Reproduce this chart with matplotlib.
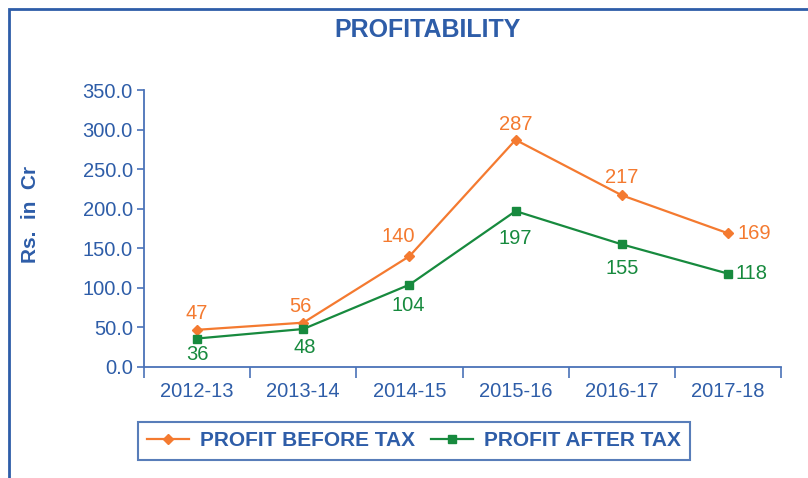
import matplotlib
matplotlib.use("Agg")
import matplotlib.pyplot as plt
from matplotlib.patches import Rectangle

plt.rcParams['font.family'] = ['Liberation Sans', 'DejaVu Sans']

years = ["2012-13", "2013-14", "2014-15", "2015-16", "2016-17", "2017-18"]
profit_before_tax = [47, 56, 140, 287, 217, 169]
profit_after_tax = [36, 48, 104, 197, 155, 118]
y_ticks = [0, 50, 100, 150, 200, 250, 300, 350]

# label offsets in pixels (dx, dy) relative to each point
pbt_offsets = [(0, 16), (-3, 16), (-11, 20), (0, 15), (0, 18), (10, 0)]
pat_offsets = [(0, -16), (1, -18), (-1, -21), (0, -27), (0, -24), (8, 0)]

BLUE = "#2E5DA8"
AXBLUE = "#4A72B8"
ORANGE = "#F47A30"
GREEN = "#178A3E"

W, H = 808, 478
fig = plt.figure(figsize=(W / 100, H / 100), dpi=100)

# outer border (extends past right and bottom)
fig.patches.append(Rectangle((9 / W, -0.1), 1.2, 1 - 9 / H + 0.1,
                             transform=fig.transFigure, fill=False,
                             edgecolor=BLUE, linewidth=2))

ax = fig.add_axes([144 / W, 1 - 367 / H, (781 - 144) / W, (367 - 90) / H])
x = list(range(len(years)))
ax.plot(x, profit_before_tax, color=ORANGE, lw=1.6, marker='D', ms=5.2,
        label="PROFIT BEFORE TAX")
ax.plot(x, profit_after_tax, color=GREEN, lw=1.6, marker='s', ms=5.5,
        label="PROFIT AFTER TAX")

px = 72 / 100
for i, v in enumerate(profit_before_tax):
    dx, dy = pbt_offsets[i]
    ha = 'left' if dx > 5 else 'center'
    ax.annotate(str(v), (i, v), xytext=(dx * px, dy * px), textcoords='offset points',
                ha=ha, va='center', color=ORANGE, fontsize=14.5)
for i, v in enumerate(profit_after_tax):
    dx, dy = pat_offsets[i]
    ha = 'left' if dx > 5 else 'center'
    ax.annotate(str(v), (i, v), xytext=(dx * px, dy * px), textcoords='offset points',
                ha=ha, va='center', color=GREEN, fontsize=14.5)

ax.set_xlim(-0.5, len(years) - 0.5)
ax.set_ylim(0, 350)
ax.set_yticks(y_ticks)
ax.set_yticklabels([f"{t:.1f}" for t in y_ticks])
ax.set_xticks(x)
ax.set_xticklabels(years)
ax.set_xticks([i - 0.5 for i in range(len(years) + 1)], minor=True)
ax.tick_params(axis='x', which='major', length=0, pad=11, labelsize=14.5, labelcolor=BLUE)
ax.tick_params(axis='x', which='minor', length=8, width=1.2, color=AXBLUE, direction='out')
ax.tick_params(axis='y', length=5, width=1.2, color=AXBLUE, labelsize=14.5,
               labelcolor=BLUE, pad=3)
for s in ['top', 'right']:
    ax.spines[s].set_visible(False)
for s in ['left', 'bottom']:
    ax.spines[s].set_color(AXBLUE)
    ax.spines[s].set_linewidth(1.3)

ax.set_ylabel("Rs.  in  Cr", fontsize=15, fontweight='bold', color=BLUE)
ax.yaxis.set_label_coords(40 / W, 1 - 214 / H, transform=fig.transFigure)

fig.text(428 / W, 1 - 30 / H, "PROFITABILITY", ha='center', va='center',
         fontsize=18, fontweight='bold', color=BLUE)

leg = fig.legend(loc='center', bbox_to_anchor=(414 / W, 1 - 441 / H), ncol=2,
                 frameon=True, fancybox=False, handlelength=2.0, handletextpad=0.55,
                 columnspacing=0.75, borderpad=0.45,
                 prop={'size': 15, 'weight': 'bold'})
leg.get_frame().set_edgecolor(BLUE)
leg.get_frame().set_linewidth(1.5)
for t in leg.get_texts():
    t.set_color(BLUE)

fig.savefig("out.png", dpi=100)
